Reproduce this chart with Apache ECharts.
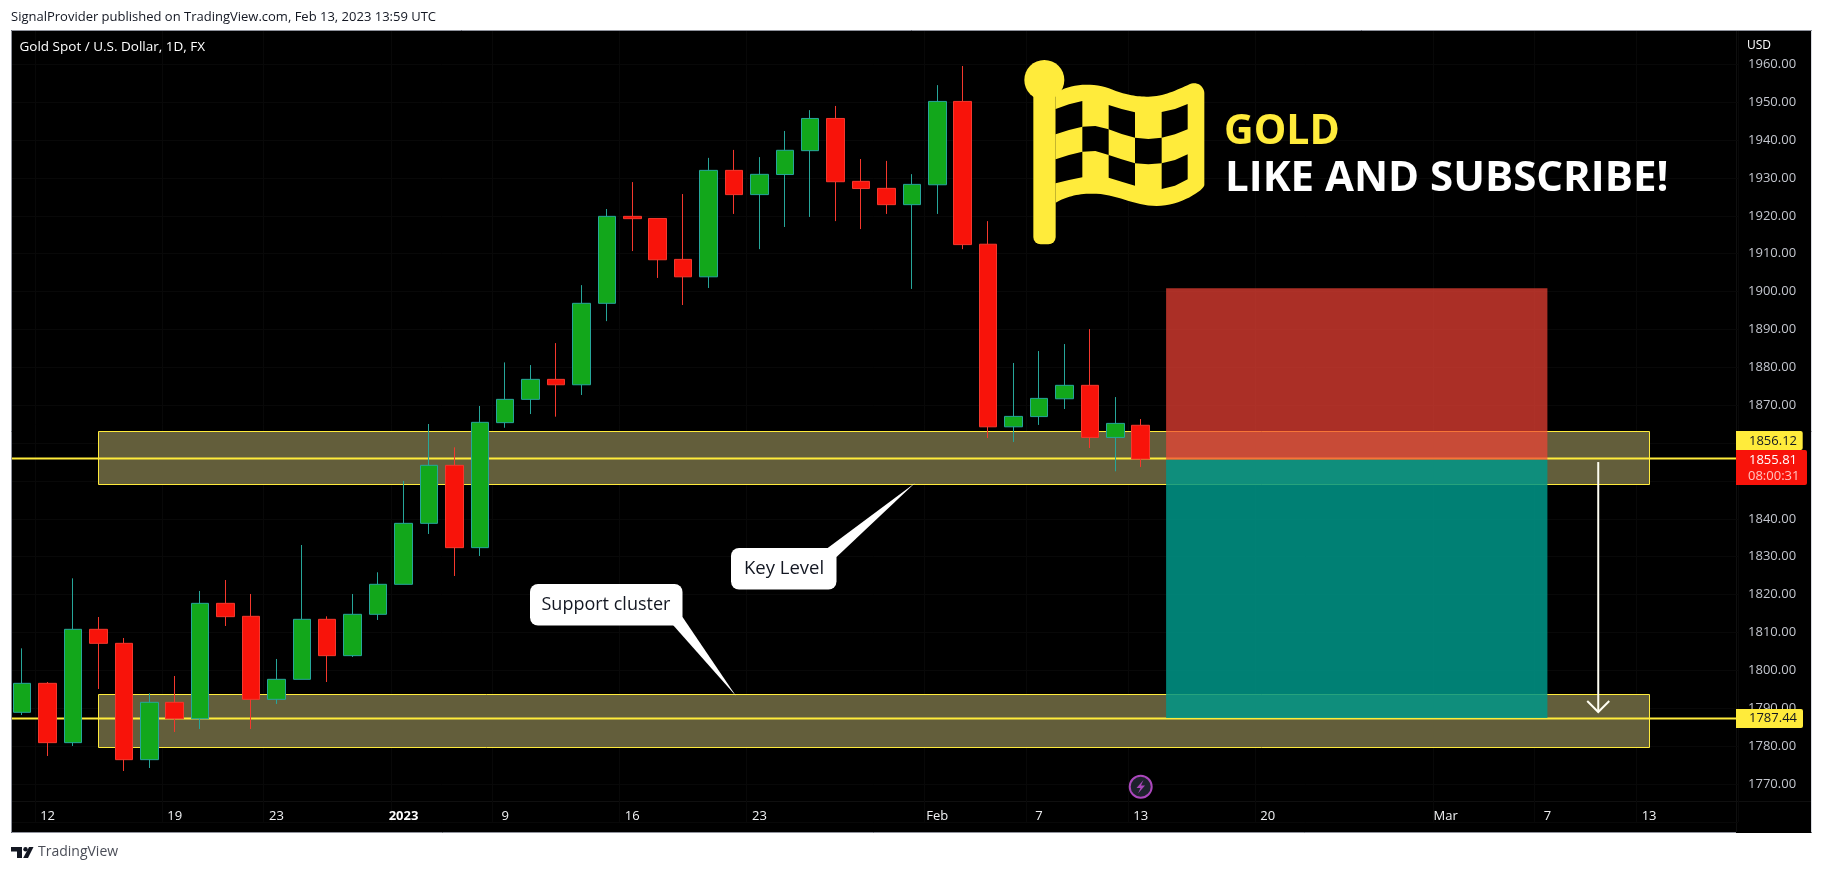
<!DOCTYPE html>
<html><head><meta charset="utf-8">
<style>html,body{margin:0;padding:0;background:#fff}#c{width:1823px;height:872px}</style>
<script src="https://cdn.jsdelivr.net/npm/echarts@6/dist/echarts.min.js"></script>
</head><body><div id="c"></div>
<script>
const categories = ["2022-12-09","2022-12-12","2022-12-13","2022-12-14","2022-12-15","2022-12-16","2022-12-19","2022-12-20","2022-12-21","2022-12-22","2022-12-23","2022-12-27","2022-12-28","2022-12-29","2022-12-30","2023-01-03","2023-01-04","2023-01-05","2023-01-06","2023-01-09","2023-01-10","2023-01-11","2023-01-12","2023-01-13","2023-01-16","2023-01-17","2023-01-18","2023-01-19","2023-01-20","2023-01-23","2023-01-24","2023-01-25","2023-01-26","2023-01-27","2023-01-30","2023-01-31","2023-02-01","2023-02-02","2023-02-03","2023-02-06","2023-02-07","2023-02-08","2023-02-09","2023-02-10","2023-02-13","2023-02-14","2023-02-15","2023-02-16","2023-02-17","2023-02-20","2023-02-21","2023-02-22","2023-02-23","2023-02-24","2023-02-27","2023-02-28","2023-03-01","2023-03-02","2023-03-03","2023-03-06","2023-03-07","2023-03-08","2023-03-09","2023-03-10","2023-03-13","2023-03-14","2023-03-15","2023-03-16"];
const tickLabels = {"2022-12-12":"12","2022-12-19":"19","2022-12-23":"23","2023-01-03":"2023","2023-01-09":"9","2023-01-16":"16","2023-01-23":"23","2023-02-01":"Feb","2023-02-07":"7","2023-02-13":"13","2023-02-20":"20","2023-03-01":"Mar","2023-03-07":"7","2023-03-13":"13"};
const opens  = [1788.93,1796.58,1780.92,1810.84,1807.14,1776.43,1791.57,1787.25,1817.7,1814.27,1792.36,1797.64,1813.48,1803.89,1814.8,1822.72,1838.82,1854.13,1832.4,1865.4,1871.55,1876.83,1875.4,1896.9,1919.86,1919.3,1908.5,1903.9,1932,1925.6,1930.9,1937.2,1945.7,1929.1,1927.25,1922.95,1928.2,1950.2,1912.5,1864.3,1867,1871.7,1875.25,1861.5,1864.7];
const closes = [1796.58,1780.92,1810.84,1807.14,1776.43,1791.57,1787.25,1817.7,1814.18,1792.36,1797.64,1813.48,1803.89,1814.8,1822.72,1838.82,1854.13,1832.4,1865.48,1871.55,1876.83,1875.4,1896.9,1919.86,1919.25,1908.4,1903.9,1932,1925.6,1930.95,1937.3,1945.7,1929,1927.2,1922.95,1928.3,1950.2,1912.4,1864.3,1867.05,1871.8,1875.25,1861.5,1865.2,1855.81];
const lows   = [1788.22,1777.4,1780.04,1795.09,1773.44,1774.23,1783.74,1784.53,1811.72,1784.53,1791.13,1797.64,1796.93,1803.53,1813.3,1822.72,1836.01,1824.92,1830.2,1864.05,1867.67,1866.97,1872.7,1892.2,1910.7,1903.6,1896.45,1900.95,1920.5,1911.2,1917.05,1919.7,1918.6,1916.5,1920.5,1900.7,1920.5,1911.2,1861.35,1860.3,1864.8,1869,1858.7,1852.55,1853.7];
const highs  = [1805.82,1796.93,1824.3,1814.09,1808.55,1793.94,1798.52,1820.96,1823.86,1820.17,1803.01,1833.1,1814.27,1820.17,1825.89,1850,1865.04,1858.88,1869.8,1881.3,1880.6,1886.4,1901.7,1921.8,1928.9,1919.3,1925.75,1935.3,1937.4,1935.5,1942.4,1947.9,1949,1935,1934.5,1931,1954.5,1959.55,1918.6,1881.15,1884.3,1886.15,1890.1,1872.15,1866.35];
const zones = [[1863.1,1849.1],[1793.7,1779.7]];
const levels = [1856.12,1787.44];
const riskBox = [1900.9,1855.6];
const rewardBox = [1855.6,1787.44];
const arrowPrices = [1855,1789];
const zoneSpan = ["2022-12-14","2023-03-13"];
const boxSpan = ["2023-02-14","2023-03-07"];
const arrowDate = "2023-03-09";
const headerText = "SignalProvider published on TradingView.com, Feb 13, 2023 13:59 UTC";
const titleText = "Gold Spot / U.S. Dollar, 1D, FX";

const SMALL = '"Open Sans"';
const chart = echarts.init(document.getElementById('c'), null, {renderer:'canvas'});
const candleData = opens.map((o,i)=>[o,closes[i],lows[i],highs[i]]);
const Y = '#FFEB3B';

function bez(p0,c1,c2,p1,n){const r=[];for(let i=1;i<=(n||16);i++){const t=i/(n||16),u=1-t;
 r.push([u*u*u*p0[0]+3*u*u*t*c1[0]+3*u*t*t*c2[0]+t*t*t*p1[0],u*u*u*p0[1]+3*u*u*t*c1[1]+3*u*t*t*c2[1]+t*t*t*p1[1]]);}return r;}
const flagOutline=[[107,130],
 ...bez([107,130],[150,100],[220,95],[280,120]),
 ...bez([280,120],[320,135],[350,140],[385,140]),
 ...bez([385,140],[430,140],[470,120],[510,102]),
 ...bez([510,102],[535,93],[553,112],[553,130]),
 [553,405],
 ...bez([553,405],[553,420],[480,468],[410,468]),
 ...bez([410,468],[340,468],[290,430],[215,431]),
 ...bez([215,431],[170,431],[135,442],[107,458])];
const flagCells=[
 [[107,177],[147,163],[187,153],[187,230],[147,240],[107,253]],
 [[266,165],[305,177],[345,187],[345,263],[305,252],[266,238]],
 [[425,186],[465,177],[503,162],[503,238],[465,253],[425,263]],
 [[187,230],[226,228],[266,238],[266,315],[226,303],[187,305]],
 [[345,263],[385,267],[425,263],[425,340],[385,343],[345,340]],
 [[107,328],[147,315],[187,305],[187,382],[147,390],[107,400]],
 [[266,315],[305,328],[345,340],[345,407],[305,395],[266,383]],
 [[425,340],[465,330],[503,313],[503,388],[465,407],[425,417]]];

function txt(text,x,y,fill,font,align,z){return {type:'text',x,y,z:z||100,silent:true,style:{text,fill,font,textAlign:align||'left',textVerticalAlign:'middle'}};}
function rect(x,y,w,h,fill,z,r){return {type:'rect',z:z||100,silent:true,shape:{x,y,width:w,height:h,r:r||0},style:{fill}};}
function poly(points,fill,z){return {type:'polygon',z:z||100,silent:true,shape:{points},style:{fill}};}
function vline(x1,y1,x2,y2,stroke,z){return {type:'line',z:z||100,silent:true,shape:{x1,y1,x2,y2},style:{stroke,lineWidth:1}};}

const graphics=[
 rect(0,0,1823,872,'#ffffff',-20),
 rect(11,30,1801,803,'#000000',-19),
 vline(1736.5,30,1736.5,832,'#0f0f0f',-18),
 vline(11,801.5,1811,801.5,'#0f0f0f',-18),
 // masks over the part of the grid that overhangs the frame
 rect(0,0,11,872,'#ffffff',60),
 rect(0,0,1823,30,'#ffffff',60),
 rect(1812,0,11,872,'#ffffff',60),
 vline(11.5,30.5,1811.5,30.5,'#8f929c',61),
 vline(11.5,30.5,11.5,832.5,'#8f929c',61),
 vline(11.5,832.5,1736,832.5,'#8f929c',61),
 vline(1811.5,30.5,1811.5,832.5,'#d8dae0',61),
 txt(headerText,11,17,'#131722','13px '+SMALL),
 txt(titleText,19.5,47,'#ffffff','13.5px '+SMALL),
 txt('USD',1747,46,'#ffffff','12px '+SMALL),
 // flag
 {type:'group',x:1020,y:50,scaleX:1/3,scaleY:1/3,z:50,silent:true,children:[
   {type:'circle',z:50,shape:{cx:73,cy:90,r:60},style:{fill:Y}},
   {type:'rect',z:50,shape:{x:40,y:120,width:67,height:463,r:[0,0,22,22]},style:{fill:Y}},
   {type:'polygon',z:50,shape:{points:flagOutline},style:{fill:Y}},
   ...flagCells.map(c=>({type:'polygon',z:51,shape:{points:c},style:{fill:'#000'}}))
 ]},
 txt('GOLD',1224,132,Y,'700 41px "Open Sans"'),
 txt('LIKE AND SUBSCRIBE!',1225,179.5,'#ffffff','700 42px "Open Sans"'),
 // callouts
 rect(530,584,152.5,41.5,'#ffffff',50,8),
 poly([[673,625],[682.5,617],[736,696]],'#ffffff',50),
 txt('Support cluster',541.5,604.5,'#131722','18px '+SMALL,'left',51),
 rect(731,548,105.5,41.5,'#ffffff',50,8),
 poly([[827,548.5],[836.5,557],[915,483]],'#ffffff',50),
 txt('Key Level',744,568.5,'#131722','18.5px '+SMALL,'left',51),
 // event icon
 {type:'circle',z:50,silent:true,shape:{cx:1140.7,cy:786.7,r:11},style:{fill:'#1e222d',stroke:'#ab47bc',lineWidth:2}},
 poly([[1143.5,780],[1136.5,788],[1140.5,788],[1138,793.5],[1145,785.5],[1141,785.5]],'#ab47bc',51),
 // price tags
 rect(1736,431,66.7,19,Y,70,[0,2,2,0]),
 txt(levels[0].toFixed(2),1749,441,'#131722','13px '+SMALL,'left',71),
 rect(1736,450,71,35,'#F8130A',72,[0,2,2,0]),
 txt(closes[closes.length-1].toFixed(2),1749,460.7,'#ffffff','13px '+SMALL,'left',73),
 txt('08:00:31',1748,476,'#ffc4c0','13px '+SMALL,'left',73),
 rect(1736,709,67,19,Y,70,[0,2,2,0]),
 txt(levels[1].toFixed(2),1749,718.5,'#131722','13px '+SMALL,'left',71),
 // footer logo
 poly([[11,847],[22,847],[22,858],[17,858],[17,851.5],[11,851.5]],'#131722',50),
 {type:'circle',z:50,silent:true,shape:{cx:25.5,cy:849.2,r:2.2},style:{fill:'#131722'}},
 poly([[29,847],[33.5,847],[28,858],[23.2,858]],'#131722',50),
 txt('TradingView',38,852.5,'#4a4d57','14px '+SMALL,'left',50)
];

const yBox=(api,a,b,x0,x1)=>{const p0=api.coord([x0,a]),p1=api.coord([x1,b]);return {x:p0[0],y:p0[1],width:p1[0]-p0[0],height:p1[1]-p0[1]};};
const idx=d=>categories.indexOf(d);

const option={
 animation:false,
 backgroundColor:'#fff',
 graphic:{elements:graphics},
 grid:{left:9.49,top:26.42,width:1728.56,height:795.48},
 xAxis:{type:'category',data:categories,boundaryGap:true,
   axisLine:{show:false},axisTick:{show:false},
   splitLine:{show:true,interval:(i,v)=>!!tickLabels[v],lineStyle:{color:'#080808'}},
   axisLabel:{inside:true,margin:-1,interval:(i,v)=>!!tickLabels[v],hideOverlap:false,color:'#f0f1f3',
     fontFamily:SMALL.replace(/"/g,''),fontSize:13,
     formatter:v=>tickLabels[v]==='2023'?'{b|2023}':(tickLabels[v]||''),
     rich:{b:{fontWeight:'bold',color:'#fff',fontSize:13,fontFamily:SMALL.replace(/"/g,'')}}}},
 yAxis:{type:'value',position:'right',min:1760,max:1970,interval:10,scale:true,
   axisLine:{show:false},axisTick:{show:false},
   splitLine:{show:true,lineStyle:{color:'#080808'}},
   axisLabel:{margin:10,color:'#c3c6ce',fontFamily:SMALL.replace(/"/g,''),fontSize:13,padding:[2,0,0,0],
     formatter:v=>(v<=1760||v>=1970)?'':v.toFixed(2)}},
 series:[
  {type:'custom',name:'zones',z:2,silent:true,data:zones,encode:{y:[0,1]},clip:false,
   renderItem:(p,api)=>{const z=zones[p.dataIndex],b=yBox(api,z[0],z[1],idx(zoneSpan[0]),idx(zoneSpan[1]));
     return {type:'rect',shape:{x:Math.round(b.x)+.5,y:Math.round(b.y)+.5,width:Math.round(b.width),height:Math.round(b.height)},style:{fill:'#635E3B',stroke:Y,lineWidth:1}};}},
  {type:'custom',name:'levels',z:2,silent:true,data:levels.map(v=>[v]),encode:{y:0},clip:false,
   renderItem:(p,api)=>{const y=Math.round(api.coord([0,levels[p.dataIndex]])[1])+.5;
     return {type:'line',shape:{x1:p.coordSys.x,y1:y,x2:1736,y2:y},style:{stroke:Y,lineWidth:2}};}},
  {type:'custom',name:'risk',z:2,silent:true,data:[riskBox],encode:{y:[0,1]},clip:false,
   renderItem:(p,api)=>({type:'rect',shape:yBox(api,riskBox[0],riskBox[1],idx(boxSpan[0]),idx(boxSpan[1])),style:{fill:'rgba(244,67,54,0.7)'}})},
  {type:'custom',name:'reward',z:2,silent:true,data:[rewardBox],encode:{y:[0,1]},clip:false,
   renderItem:(p,api)=>({type:'rect',shape:yBox(api,rewardBox[0],rewardBox[1],idx(boxSpan[0]),idx(boxSpan[1])),style:{fill:'rgba(0,150,136,0.85)'}})},
  {type:'candlestick',name:'XAUUSD',z:3,data:candleData,barWidth:18,silent:true,
   itemStyle:{color:'#12A71B',color0:'#F8130A',borderColor:'#26a69a',borderColor0:'#f5382d',borderWidth:1}},
  {type:'custom',name:'arrow',z:4,silent:true,data:[arrowPrices],encode:{y:[0,1]},clip:false,
   renderItem:(p,api)=>{const a=api.coord([idx(arrowDate),arrowPrices[0]]),b=api.coord([idx(arrowDate),arrowPrices[1]]);
     const st={stroke:'#fffef2',lineWidth:2,fill:null};
     return {type:'group',children:[
       {type:'line',shape:{x1:a[0],y1:a[1],x2:b[0],y2:b[1]},style:st},
       {type:'polyline',shape:{points:[[b[0]-11,b[1]-11],[b[0],b[1]],[b[0]+11,b[1]-11]]},style:st}]};}}
 ]
};
chart.setOption(option);
</script></body></html>
